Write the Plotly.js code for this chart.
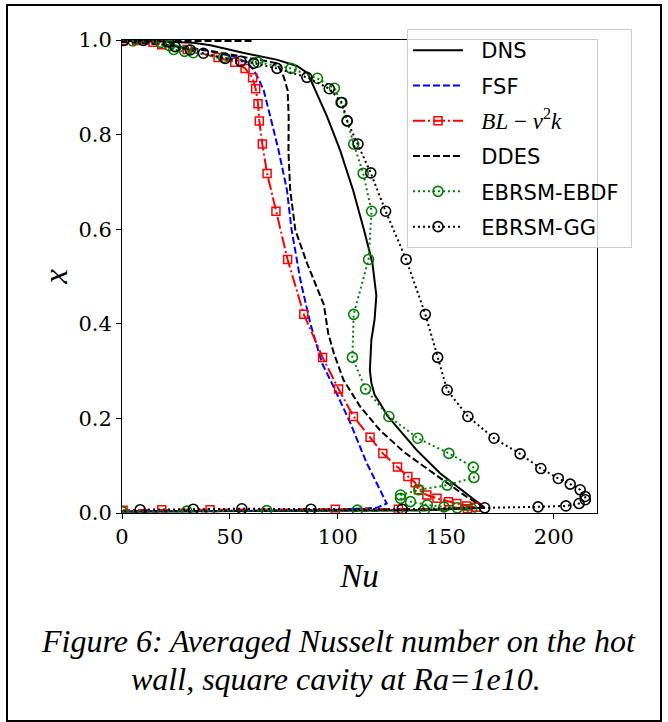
<!DOCTYPE html>
<html>
<head>
<meta charset="utf-8">
<script src="https://cdn.plot.ly/plotly-3.0.1.min.js"></script>
<style>
  html, body { margin: 0; padding: 0; background: #ffffff; }
  #chart { width: 668px; height: 722px; }
</style>
</head>
<body>
<div id="chart"></div>
<script>
// ---- Data (Nu on horizontal axis, x position on vertical axis) ----
const seriesNames = ["DNS", "FSF", "BL", "DDES", "EBRSM-EBDF", "EBRSM-GG"];

const nuDNS = [0, 15, 33, 41, 56, 72, 81, 86, 89, 95, 101, 107, 112, 116, 117.8, 117, 115.5, 114.8, 115.5, 117, 119.5, 123, 127.3, 136.5, 147.3, 158.1, 166, 168, 140, 90, 40, 0];
const xDNS  = [1.0, 0.998, 0.994, 0.989, 0.973, 0.958, 0.945, 0.93, 0.9, 0.838, 0.767, 0.683, 0.6, 0.528, 0.46, 0.41, 0.366, 0.302, 0.275, 0.25, 0.232, 0.205, 0.182, 0.133, 0.084, 0.045, 0.017, 0.011, 0.006, 0.005, 0.004, 0.003];

const nuFSF = [0, 20, 40, 52, 58, 61, 63.5, 65.6, 68.7, 72.5, 76.4, 78.5, 82.6, 87.2, 92.7, 98, 105.8, 113.4, 119.5, 122.6, 118, 100, 60, 0];
const xFSF  = [0.999, 0.99, 0.977, 0.965, 0.952, 0.937, 0.915, 0.894, 0.838, 0.767, 0.683, 0.6, 0.493, 0.401, 0.316, 0.267, 0.19, 0.105, 0.049, 0.02, 0.011, 0.007, 0.005, 0.003];

const nuBL = [0.5, 6.8, 14.4, 18.4, 30.2, 44.5, 52.2, 57, 60.5, 61.9, 63, 63.6, 65, 67.2, 71.3, 76.7, 84.2, 92.9, 100.3, 107.2, 114.9, 120.8, 127.6, 132.4, 135.8, 137.3, 141.2, 145.9, 151.2, 155.1, 159.7, 164, 160, 128, 98.8, 40.8, 18.4, 0.5];
const xBL  = [0.999, 0.999, 0.995, 0.99, 0.98, 0.963, 0.953, 0.94, 0.92, 0.897, 0.865, 0.829, 0.78, 0.718, 0.638, 0.536, 0.42, 0.329, 0.262, 0.204, 0.16, 0.126, 0.097, 0.077, 0.064, 0.049, 0.038, 0.031, 0.024, 0.02, 0.015, 0.012, 0.009, 0.008, 0.008, 0.007, 0.007, 0.006];

const nuDDES = [60, 30, 0, 0, 20, 40, 55, 65, 71.8, 74.9, 76.7, 77.2, 77.1, 77.9, 80.3, 85.7, 91, 93.5, 95.5, 98.1, 102.6, 110.3, 119.5, 130.3, 141.2, 150.5, 159.7, 166, 167, 140, 90, 40, 0];
const xDDES  = [0.998, 0.998, 0.998, 0.996, 0.99, 0.978, 0.966, 0.958, 0.951, 0.922, 0.894, 0.838, 0.763, 0.683, 0.598, 0.528, 0.47, 0.44, 0.38, 0.338, 0.281, 0.225, 0.175, 0.13, 0.094, 0.063, 0.034, 0.017, 0.011, 0.006, 0.005, 0.004, 0.003];

const nuEBDF = [5, 18, 22, 24, 29, 33, 47, 62.8, 78.3, 90.5, 98.4, 101.4, 104.3, 107.3, 111.7, 115.6, 114.2, 107.3, 106.7, 112.8, 123.6, 137, 151.4, 162.7, 163, 150.6, 137.5, 129, 129, 133.6, 141.4, 149.1, 155.3, 162, 140, 109, 67, 30, 0];
const xEBDF  = [0.998, 0.995, 0.988, 0.98, 0.976, 0.973, 0.963, 0.953, 0.94, 0.919, 0.898, 0.868, 0.829, 0.78, 0.718, 0.638, 0.536, 0.42, 0.329, 0.262, 0.204, 0.158, 0.126, 0.097, 0.075, 0.059, 0.049, 0.038, 0.031, 0.024, 0.017, 0.013, 0.011, 0.009, 0.006, 0.006, 0.005, 0.004, 0.003];

const nuGG = [0.9, 9.9, 21.5, 24.6, 31.6, 37.7, 47.8, 55, 61, 71.8, 85.6, 96, 101.8, 104.3, 109.3, 115.2, 122.1, 131.6, 140.5, 146.2, 150.6, 160.2, 172.3, 184.4, 194, 202.1, 207.6, 212.2, 214.5, 214.6, 211.7, 205.6, 192.7, 168, 129.8, 87.5, 55.5, 33, 8.4];
const xGG  = [0.999, 0.999, 0.996, 0.986, 0.979, 0.972, 0.961, 0.955, 0.951, 0.94, 0.921, 0.897, 0.868, 0.829, 0.78, 0.719, 0.638, 0.536, 0.42, 0.329, 0.26, 0.204, 0.158, 0.125, 0.094, 0.073, 0.061, 0.049, 0.035, 0.028, 0.02, 0.015, 0.013, 0.011, 0.008, 0.008, 0.009, 0.008, 0.007];

const xTicks = [0, 50, 100, 150, 200];
const yTicks = [0.0, 0.2, 0.4, 0.6, 0.8, 1.0];

const pad = '\u00a0\u00a0';
const blLabel = pad + '<span style="font-family:\'Liberation Serif\', serif; font-size:23px;"><i>BL</i> \u2212 <i>v</i><sup>2</sup><i>k</i></span>';

const traces = [
  { x: nuDNS, y: xDNS, name: pad + seriesNames[0], legendgroup: 'g1', mode: 'lines',
    line: { color: '#000000', width: 2 } },
  { x: nuFSF, y: xFSF, name: pad + seriesNames[1], legendgroup: 'g2', mode: 'lines',
    line: { color: '#0000ff', width: 2, dash: '7px,3px' } },
  { x: nuBL, y: xBL, name: blLabel, legendgroup: 'g3', mode: 'lines+markers',
    line: { color: '#ff0000', width: 2, dash: '12px,3px,2px,3px' },
    marker: { symbol: 'square-open', size: 8, color: '#ff0000', line: { width: 1.5, color: '#ff0000' } } },
  { x: nuDDES, y: xDDES, name: pad + seriesNames[3], legendgroup: 'g4', mode: 'lines',
    line: { color: '#000000', width: 2, dash: '7px,3px' } },
  { x: nuEBDF, y: xEBDF, name: pad + seriesNames[4] + '\u00a0', legendgroup: 'g5', mode: 'lines+markers',
    line: { color: '#008000', width: 2, dash: '2px,3px' },
    marker: { symbol: 'circle-open', size: 10, color: '#008000', line: { width: 1.6, color: '#008000' } } },
  { x: nuGG, y: xGG, name: pad + seriesNames[5], legendgroup: 'g6', mode: 'lines+markers',
    line: { color: '#000000', width: 2, dash: '2px,3px' },
    marker: { symbol: 'circle-open', size: 10, color: '#000000', line: { width: 1.6, color: '#000000' } } }
].map(t => Object.assign({ type: 'scatter' }, t));

// plot area in px: left 122, right 597, top 40, bottom 513
const L = 122, R = 597, T = 40, B = 513, W = 668, H = 722;
const px2x = p => (p - L) / (R - L);
const px2y = p => (B - p) / (B - T);

const layout = {
  width: W, height: H,
  margin: { l: L, r: W - R, t: T, b: H - B, pad: 0 },
  paper_bgcolor: '#ffffff', plot_bgcolor: '#ffffff',
  font: { family: 'DejaVu Serif', color: '#000000' },
  showlegend: true,
  xaxis: {
    range: [0, 220], tickvals: xTicks, ticktext: xTicks.map(String),
    ticks: 'outside', ticklen: 5, tickwidth: 1, tickcolor: '#000',
    showline: true, linecolor: '#000', linewidth: 1, mirror: true,
    showgrid: false, zeroline: false,
    tickfont: { family: 'DejaVu Serif', size: 21, color: '#000' },
    title: { text: '<i>Nu</i>', font: { family: 'Liberation Serif', size: 33, color: '#000' }, standoff: 15 }
  },
  yaxis: {
    range: [0, 1], tickvals: yTicks, ticktext: yTicks.map(v => v.toFixed(1)),
    ticks: 'outside', ticklen: 5, tickwidth: 1, tickcolor: '#000',
    showline: true, linecolor: '#000', linewidth: 1, mirror: true,
    showgrid: false, zeroline: false,
    tickfont: { family: 'DejaVu Serif', size: 21, color: '#000' },
    title: { text: '<i>x</i>', font: { family: 'Liberation Serif', size: 33, color: '#000' }, standoff: 0 }
  },
  legend: {
    x: px2x(407), y: px2y(29), xanchor: 'left', yanchor: 'top',
    bgcolor: 'rgba(255,255,255,0.8)', bordercolor: '#cccccc', borderwidth: 1,
    font: { family: 'DejaVu Sans', size: 21, color: '#000' },
    itemwidth: 50, tracegroupgap: 5
  },
  shapes: [
    { type: 'rect', xref: 'paper', yref: 'paper',
      x0: px2x(7), x1: px2x(661), y0: px2y(721), y1: px2y(5),
      line: { color: '#000', width: 2 }, fillcolor: 'rgba(0,0,0,0)', layer: 'below' }
  ],
  annotations: [
    { xref: 'paper', yref: 'paper', x: px2x(338), y: px2y(641), xanchor: 'center', yanchor: 'middle',
      showarrow: false, text: 'Figure 6: Averaged Nusselt number on the hot',
      font: { family: 'Liberation Serif', size: 32, style: 'italic', color: '#000' } },
    { xref: 'paper', yref: 'paper', x: px2x(336), y: px2y(679), xanchor: 'center', yanchor: 'middle',
      showarrow: false, text: 'wall, square cavity at Ra=1e10.',
      font: { family: 'Liberation Serif', size: 32, style: 'italic', color: '#000' } }
  ]
};

Plotly.newPlot('chart', traces, layout, { displayModeBar: false, responsive: false });
</script>
</body>
</html>
